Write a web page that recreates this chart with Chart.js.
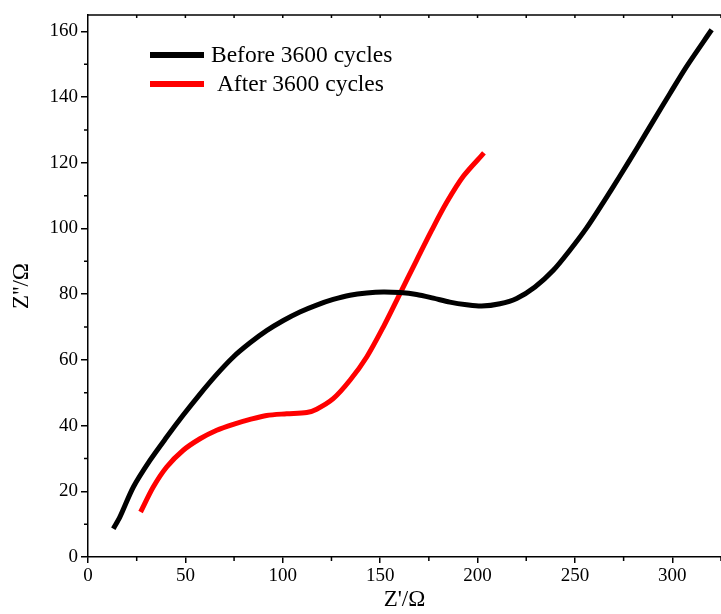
<!DOCTYPE html>
<html>
<head>
<meta charset="utf-8">
<script src="https://cdn.jsdelivr.net/npm/chart.js@4.4.1/dist/chart.umd.min.js"></script>
<style>
  body { margin: 0; background: #fff; }
  #wrap { width: 721px; height: 614px; }
</style>
</head>
<body>
<div id="wrap"><canvas id="eis" width="721" height="614"></canvas></div>
<script>
// Nyquist data (Z' / Z'' in ohm)
const beforeX = [13, 16.4, 23.3, 31.8, 40.4, 48.9, 57.5, 66.1, 74.6, 83.2, 91.7, 100.3, 108.8, 117.4, 125.9, 134.5, 143.1, 151.6, 160.2, 168.7, 177.3, 185.8, 194.4, 202.1, 211.5, 220.1, 229.5, 238.9, 247.4, 256, 264.5, 273.1, 281.7, 290.2, 298.8, 307.3, 320.2];
const beforeY = [8.6, 12.2, 21.3, 29.4, 36.5, 43.2, 49.6, 55.6, 60.9, 65.2, 68.9, 72.0, 74.6, 76.7, 78.4, 79.7, 80.4, 80.7, 80.5, 79.9, 78.8, 77.6, 76.8, 76.4, 77.1, 78.7, 82.2, 87.3, 93.4, 100.2, 107.9, 116.0, 124.3, 132.7, 141.1, 149.3, 160.5];
const afterX = [27, 33.5, 40.4, 48.9, 57.5, 66.1, 74.6, 83.2, 91.7, 102, 112.3, 117.4, 125.9, 134.5, 143.1, 151.6, 160.2, 168.7, 176.5, 184.1, 192.7, 203.3];
const afterY = [13.7, 21.3, 27.4, 32.5, 36, 38.6, 40.4, 41.9, 43.1, 43.6, 44, 45, 48.2, 53.8, 60.9, 70, 80.2, 90.3, 99.5, 107.9, 115.9, 123];

const seriesLabels = ["Before 3600 cycles", " After 3600 cycles"];
const seriesColors = ["#000000", "#ff0000"];

const xMin = 0, xMax = 325, xStep = 50, xMinor = 25;
const yMin = 0, yMax = 165, yStep = 20, yMinor = 10;

const serif = "'Liberation Serif', 'Times New Roman', serif";

function toPoints(xs, ys) {
  return xs.map((x, i) => ({ x: x, y: ys[i] }));
}

// extra ticks, top frame and the legend inside the plot
const framePlugin = {
  id: "frame",
  afterDraw(chart) {
    const ctx = chart.ctx;
    const area = chart.chartArea;
    const xs = chart.scales.x, ys = chart.scales.y;
    ctx.save();
    ctx.strokeStyle = "#000";
    ctx.lineWidth = 1.5;

    ctx.beginPath();
    ctx.moveTo(area.left, area.top);
    ctx.lineTo(area.right + 1, area.top);
    ctx.stroke();

    ctx.beginPath();
    for (let v = xMin; v <= xMax; v += xMinor) {
      const px = xs.getPixelForValue(v);
      if (v % xStep !== 0) {
        ctx.moveTo(px, area.bottom);
        ctx.lineTo(px, area.bottom + 4);
      }
      if (v > xMin) {
        ctx.moveTo(px, area.top);
        ctx.lineTo(px, area.top + 3);
      }
    }
    for (let v = yMin; v <= yMax; v += yMinor) {
      if (v % yStep === 0) continue;
      const py = ys.getPixelForValue(v);
      ctx.moveTo(area.left - 4, py);
      ctx.lineTo(area.left, py);
    }
    ctx.stroke();

    // legend
    ctx.font = "23.5px " + serif;
    ctx.textBaseline = "middle";
    const rows = [55, 84];
    chart.data.datasets.forEach((ds, i) => {
      ctx.strokeStyle = ds.borderColor;
      ctx.lineWidth = 6;
      ctx.beginPath();
      ctx.moveTo(150, rows[i]);
      ctx.lineTo(204, rows[i]);
      ctx.stroke();
      ctx.fillStyle = "#000";
      ctx.fillText(ds.label, 211, rows[i] + 1);
    });
    ctx.restore();
  }
};

const ctx = document.getElementById("eis").getContext("2d");
new Chart(ctx, {
  type: "scatter",
  data: {
    datasets: [
      {
        label: seriesLabels[0],
        data: toPoints(beforeX, beforeY),
        showLine: true,
        borderColor: seriesColors[0],
        backgroundColor: seriesColors[0],
        borderWidth: 5,
        pointRadius: 0,
        tension: 0.3,
        borderCapStyle: "butt"
      },
      {
        label: seriesLabels[1],
        data: toPoints(afterX, afterY),
        showLine: true,
        borderColor: seriesColors[1],
        backgroundColor: seriesColors[1],
        borderWidth: 5,
        pointRadius: 0,
        tension: 0.3,
        borderCapStyle: "butt"
      }
    ]
  },
  options: {
    responsive: false,
    animation: false,
    layout: { padding: { top: 15, right: 0, left: 0, bottom: 0 } },
    plugins: {
      legend: { display: false },
      tooltip: { enabled: false }
    },
    scales: {
      x: {
        type: "linear",
        min: xMin,
        max: xMax,
        afterFit: s => { s.height = 57; },
        border: { display: true, color: "#000", width: 1.5 },
        grid: { display: true, drawOnChartArea: false, drawTicks: true, tickLength: 6, color: "#000", lineWidth: 1.5 },
        ticks: { stepSize: xStep, includeBounds: false, color: "#000", padding: 2, maxRotation: 0, font: { family: serif, size: 19 } },
        title: { display: true, text: "Z'/Ω", color: "#000", padding: { top: 5, bottom: 0 }, font: { family: serif, size: 23 } }
      },
      y: {
        type: "linear",
        min: yMin,
        max: yMax,
        afterFit: s => { s.width = 88; },
        border: { display: true, color: "#000", width: 1.5 },
        grid: { display: true, drawOnChartArea: false, drawTicks: true, tickLength: 7, color: "#000", lineWidth: 1.5 },
        ticks: { stepSize: yStep, includeBounds: false, color: "#000", padding: 3, font: { family: serif, size: 19 } },
        title: { display: true, text: "Z''/Ω", color: "#000", padding: { top: 8, bottom: 4 }, font: { family: serif, size: 23 } }
      }
    }
  },
  plugins: [framePlugin]
});
</script>
</body>
</html>
